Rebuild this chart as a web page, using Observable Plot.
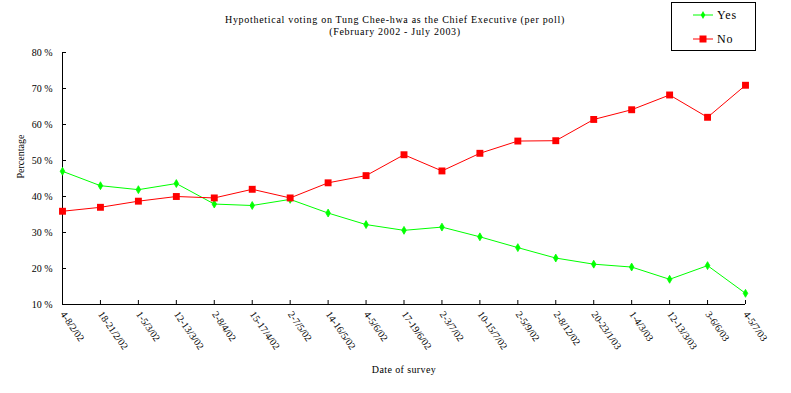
<!DOCTYPE html>
<html>
<head>
<meta charset="utf-8">
<script src="https://cdn.jsdelivr.net/npm/d3@7"></script>
<script src="https://cdn.jsdelivr.net/npm/@observablehq/plot@0.6"></script>
<style>
  html, body { margin: 0; padding: 0; background: white; }
  #chart { position: relative; width: 791px; height: 393px; }
  .spaced text { letter-spacing: 0.7px; }
  .spaced-x text { letter-spacing: 0.4px; }
</style>
</head>
<body>
<div id="chart"></div>
<script>
const surveyDates = ["4-8/2/02","18-21/2/02","1-5/3/02","12-13/3/02","2-8/4/02","15-17/4/02","2-7/5/02","14-16/5/02","4-5/6/02","17-19/6/02","2-3/7/02","10-15/7/02","2-5/9/02","2-8/12/02","20-23/1/03","1-4/3/03","12-13/3/03","3-6/6/03","4-5/7/03"];
const yesValues = [47.0,43.0,41.9,43.6,37.9,37.5,39.2,35.4,32.2,30.6,31.5,28.8,25.8,22.9,21.2,20.4,17.0,20.8,13.1];
const noValues  = [35.9,37.0,38.7,40.0,39.6,42.0,39.6,43.8,45.8,51.6,47.1,52.0,55.4,55.5,61.4,64.1,68.2,62.0,70.9];
const yTicks = [10,20,30,40,50,60,70,80];
const seriesNames = ["Yes","No"];
const seriesColors = ["#00ff00","#ff0000"];

const yesData = surveyDates.map((d,i)=>({date:d, value:yesValues[i]}));
const noData  = surveyDates.map((d,i)=>({date:d, value:noValues[i]}));

const font = "'Liberation Serif', 'DejaVu Serif', serif";

const plot = Plot.plot({
  width: 791,
  height: 393,
  marginLeft: 62,
  marginRight: 46,
  marginTop: 52,
  marginBottom: 89,
  style: {fontFamily: font, fontSize: "10px", background: "white", color: "black", overflow: "visible"},
  x: {type: "point", domain: surveyDates, padding: 0, round: false, label: null},
  y: {domain: [10, 80], label: null},
  marks: [
    Plot.axisY({ticks: yTicks, tickSize: 0, tickPadding: 10, tickFormat: d => d + " %", label: null}),
    Plot.axisY({ticks: yTicks, tickSize: -4, tickFormat: () => "", label: null}),
    Plot.axisX({tickSize: 0, tickRotate: 55, tickPadding: 8, label: null}),
    Plot.axisX({tickSize: -4, tickFormat: () => "", label: null}),
    Plot.ruleY([10], {stroke: "black"}),
    Plot.ruleX([surveyDates[0]], {stroke: "black"}),
    Plot.line(yesData, {x: "date", y: "value", stroke: seriesColors[0], strokeWidth: 1}),
    Plot.dot(yesData, {x: "date", y: "value", symbol: "diamond", r: 2.4, fill: seriesColors[0], stroke: seriesColors[0], strokeWidth: 0.8}),
    Plot.line(noData, {x: "date", y: "value", stroke: seriesColors[1], strokeWidth: 1}),
    Plot.dot(noData, {x: "date", y: "value", symbol: "square", r: 3.9, fill: seriesColors[1]}),
    Plot.text(["Percentage"], {frameAnchor: "left", dx: -42, rotate: -90, fontSize: 10}),
    Plot.text(["Date of survey"], {frameAnchor: "bottom", dy: 68, fontSize: 10, className: "spaced-x"}),
    Plot.text(["Hypothetical voting on Tung Chee-hwa as the Chief Executive (per poll)"], {frameAnchor: "top", dx: -9, dy: -37, fontSize: 10, className: "spaced"}),
    Plot.text(["(February 2002 - July 2003)"], {frameAnchor: "top", dx: -9, dy: -25, fontSize: 10, className: "spaced"})
  ]
});

document.getElementById("chart").appendChild(plot);

// Legend box
const svg = d3.select(plot);
const lg = svg.append("g").attr("font-family", font).attr("font-size", 12).attr("text-anchor", "start");
lg.append("rect").attr("x", 671.5).attr("y", 2.5).attr("width", 84).attr("height", 48)
  .attr("fill", "white").attr("stroke", "black").attr("stroke-width", 1);
seriesNames.forEach((name, i) => {
  const cy = 15 + i * 24;
  lg.append("line").attr("x1", 693).attr("x2", 713).attr("y1", cy).attr("y2", cy)
    .attr("stroke", seriesColors[i]).attr("stroke-width", 1);
  if (i === 0) {
    lg.append("path").attr("d", d3.symbol(d3.symbolDiamond, 18)()).attr("transform", `translate(703,${cy})`)
      .attr("fill", seriesColors[i]);
  } else {
    lg.append("rect").attr("x", 699.5).attr("y", cy - 3.5).attr("width", 7).attr("height", 7).attr("fill", seriesColors[i]);
  }
  lg.append("text").attr("x", 717).attr("y", cy + 4).attr("letter-spacing", "0.8px").text(name);
});
</script>
</body>
</html>
